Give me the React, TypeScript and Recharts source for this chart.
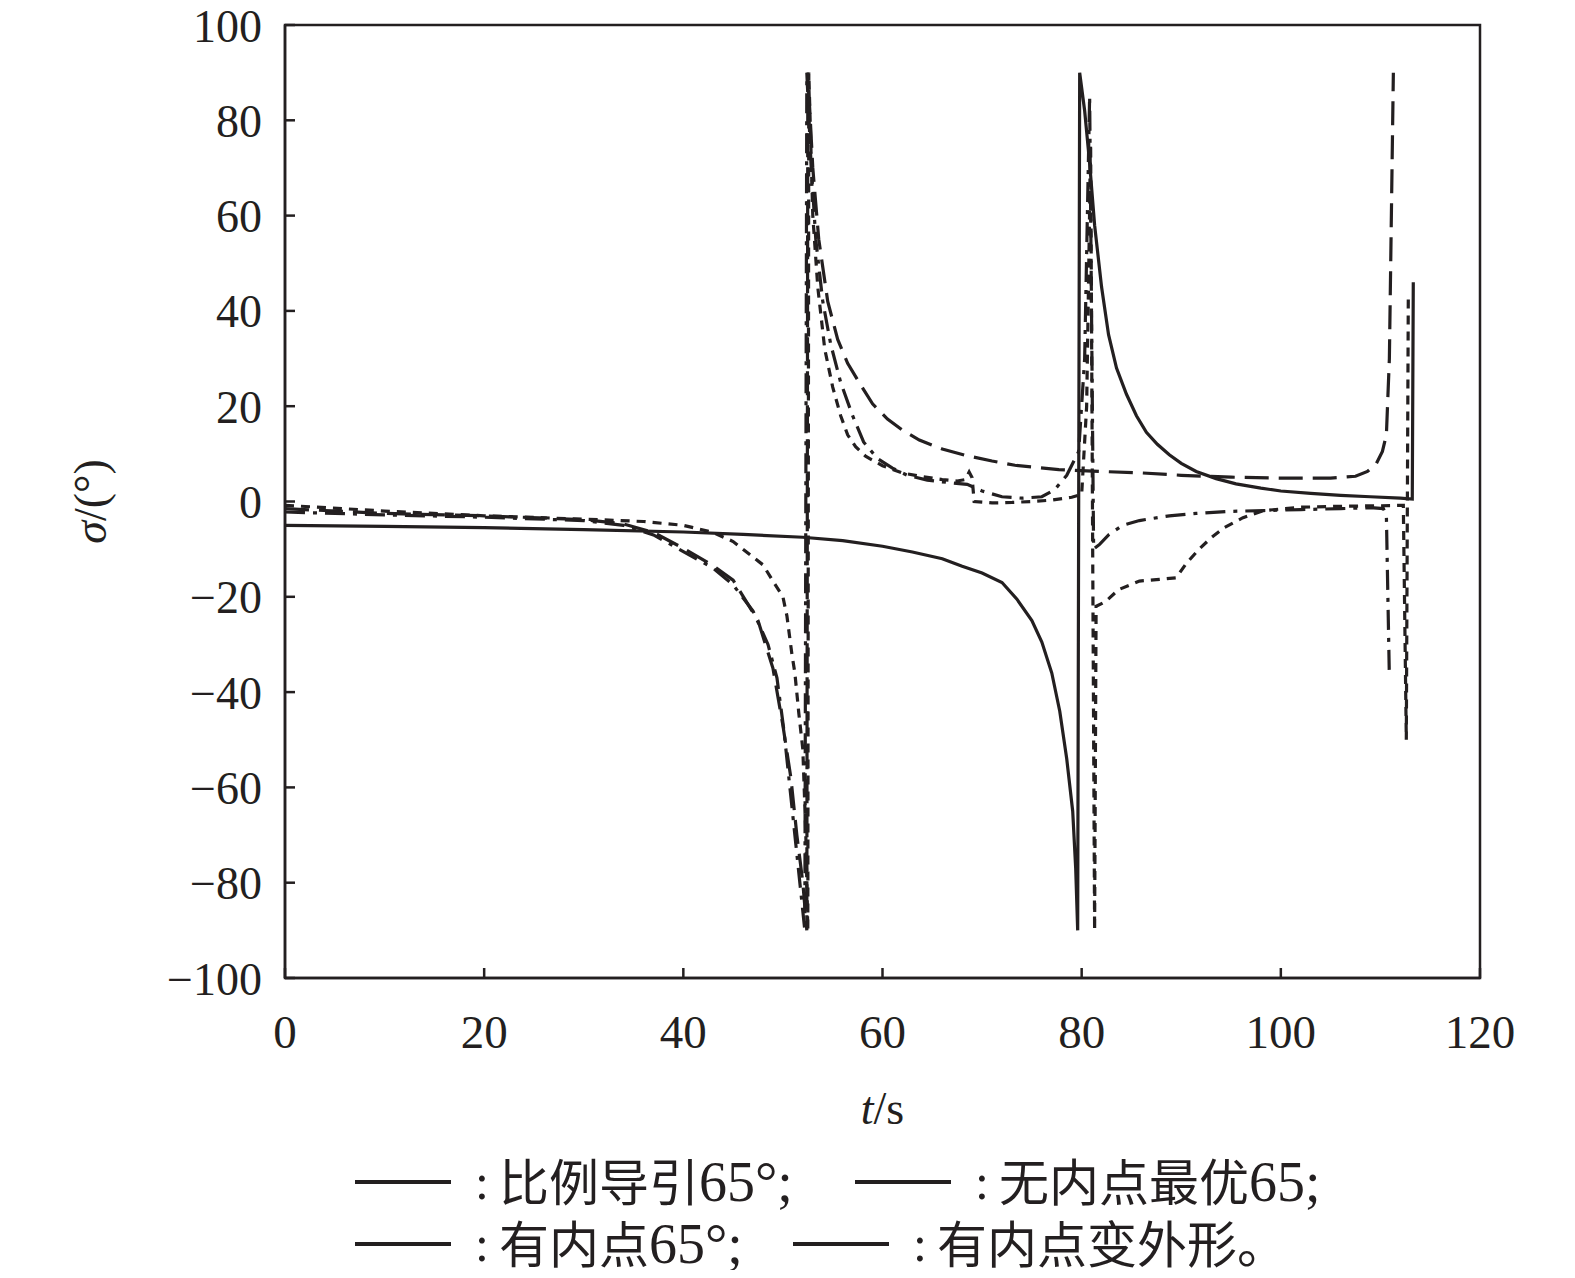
import { LineChart, Line, XAxis, YAxis, ReferenceArea } from "recharts"

// 坐标轴刻度
const X_TICKS = [0, 20, 40, 60, 80, 100, 120]
const Y_TICKS = [-100, -80, -60, -40, -20, 0, 20, 40, 60, 80, 100]

const SERIES_NAMES = ["比例导引65°", "无内点最优65", "有内点65°", "有内点变外形"]

// [t, σ] — 比例导引65°
const PN_65: [number, number][] = [
  [0, -5], [10, -5.2], [20, -5.5], [30, -5.9], [40, -6.4], [46, -6.9], [52, -7.5],
  [56, -8.2], [60, -9.4], [63, -10.6], [66, -12], [68, -13.6], [70, -15], [72, -17],
  [73.5, -20.5], [75, -25], [76, -29.5], [77, -36], [77.8, -44], [78.5, -54],
  [79.1, -65], [79.4, -77], [79.6, -90], [79.8, 90], [80.3, 82], [80.8, 71],
  [81.3, 58], [82, 45], [82.7, 35], [83.5, 28], [84.5, 22.5], [85.5, 18], [86.5, 14.5],
  [87.6, 12], [88.8, 9.8], [90, 8], [91.5, 6.3], [93.5, 4.8], [95.5, 3.7], [98, 2.8],
  [100, 2.2], [103, 1.7], [106, 1.3], [109, 1], [112, 0.7], [113.2, 0.5], [113.3, 46],
]

// 无内点最优65
const OPT_NO_POINT: [number, number][] = [
  [0, -1.5], [10, -2.5], [20, -3], [30, -3.8], [34, -4.7], [37, -6.5], [40, -9.8],
  [43, -13.5], [45, -16.5], [47.5, -25], [49, -35], [50, -47], [50.8, -58], [51.4, -70],
  [52, -80], [52.4, -90], [52.5, 90], [53, 70], [53.6, 55], [54.5, 42], [55.5, 34],
  [56.5, 29], [57.8, 24.5], [59, 20.5], [60.5, 17.3], [62, 15], [63.7, 12.9], [66, 11],
  [68.3, 9.7], [71, 8.5], [73.3, 7.6], [77.7, 6.7], [82, 6.3], [86, 6], [90, 5.5],
  [95, 5.1], [100, 4.9], [105, 4.9], [107.5, 5.3], [108.7, 6.3], [109.6, 8], [110.2, 10.5],
  [110.6, 14], [110.9, 30], [111.1, 60], [111.3, 90],
]

// 有内点65°
const OPT_POINT_65: [number, number][] = [
  [0, -2.2], [10, -2.8], [20, -3.3], [30, -4], [34, -5], [37, -7], [40, -10.5], [43, -14],
  [45, -17.5], [47, -23], [48.5, -30], [49.4, -37], [50.1, -48], [50.7, -60], [51.3, -72],
  [51.8, -82], [52.2, -90], [52.4, 90], [52.8, 72], [53.3, 55], [54, 42], [54.8, 33],
  [55.8, 25], [57, 18], [58.1, 12.5], [59.5, 9], [61, 7], [62.5, 5.5], [64.5, 4.5],
  [66.5, 4], [68.5, 3.6], [70, 2.2], [72, 1], [74, 0.7], [76, 1], [77.3, 2.5], [78.5, 5.5],
  [79.7, 10.5], [80.3, 30], [80.8, 85], [81.2, -10], [81.8, -9], [82.7, -7], [84.1, -5],
  [85.8, -4], [88.8, -3], [91.5, -2.5], [94.5, -2.1], [98.3, -1.9], [102, -1.7],
  [106, -1.5], [109, -1.3], [110.3, -1.5], [110.6, -3], [110.9, -37],
]

// 有内点变外形
const OPT_POINT_SHAPE: [number, number][] = [
  [0, -0.8], [10, -2], [20, -3], [30, -3.7], [36, -4.2], [40, -5], [43, -6.5], [45, -8.4],
  [48, -13.3], [49, -16.7], [50, -20], [50.4, -24], [50.9, -32], [51.2, -36], [51.6, -44.5],
  [52, -52], [52.3, -70], [52.5, -90], [52.6, 90], [53, 60], [53.5, 45], [54.2, 32],
  [55, 24], [55.8, 18], [56.5, 14], [57.3, 11.5], [58.3, 9.5], [60, 7.5], [62, 6],
  [64, 5.2], [66, 4.6], [67.5, 4.3], [68.3, 4.6], [68.7, 6.2], [69, 5], [69.2, 0],
  [71, -0.3], [73, -0.2], [75, 0], [77, 0.3], [79, 0.9], [80, 1.5], [80.5, 20], [80.9, 75],
  [81.3, -90], [81.45, -22], [82.4, -21], [83.7, -18.5], [85.8, -16.7], [87.5, -16.4],
  [89.5, -16], [90.5, -13], [91.8, -10], [93, -7.6], [94.3, -5.5], [96.2, -3.4],
  [98.3, -1.9], [102, -1.2], [106, -1], [110, -0.9], [112.3, -0.8], [112.6, -50], [112.8, 43],
]

const INK = "#231f20"
const SERIF = "'Liberation Serif', 'Times New Roman', serif"
const CJK = "'Noto Sans CJK SC', sans-serif"

const SERIES = [
  { name: SERIES_NAMES[0], points: PN_65, dash: undefined },
  { name: SERIES_NAMES[1], points: OPT_NO_POINT, dash: "24 10" },
  { name: SERIES_NAMES[2], points: OPT_POINT_65, dash: "20 8 4 8" },
  { name: SERIES_NAMES[3], points: OPT_POINT_SHAPE, dash: "9 7" },
].map(s => ({ ...s, data: s.points.map(([t, sigma]) => ({ t, sigma })) }))

const minus = (v: number) => String(v).replace("-", "\u2212")

function YTick({ x, y, payload }: any) {
  return (
    <text x={x} y={y} dy="0.36em" textAnchor="end" fontSize={46} fontFamily={SERIF} fill={INK}>
      {minus(payload.value)}
    </text>
  )
}

function XTick({ x, y, payload }: any) {
  return (
    <text x={x} y={y} dy="0.7em" textAnchor="middle" fontSize={47} fontFamily={SERIF} fill={INK}>
      {payload.value}
    </text>
  )
}

function XTitle({ viewBox }: any) {
  const { x, y, width } = viewBox
  return (
    <text x={x + width / 2} y={y + 146} textAnchor="middle" fontSize={46} fontFamily={SERIF} fill={INK}>
      <tspan fontStyle="italic">t</tspan>/s
    </text>
  )
}

function YTitle({ viewBox }: any) {
  const { y, height } = viewBox
  const cx = 82
  const cy = y + height / 2
  return (
    <text x={cx} y={cy} textAnchor="middle" dominantBaseline="central" fontSize={46}
      fontFamily={SERIF} fill={INK} transform={`rotate(-90, ${cx}, ${cy})`}>
      <tspan fontStyle="italic">σ</tspan>/(°)
    </text>
  )
}

// 图例位置（四项，两行），相对于外层容器（页面 y 偏移 0）
const LEGEND_POS = [
  { left: 347, top: 1155 },
  { left: 847, top: 1155 },
  { left: 347, top: 1217 },
  { left: 785, top: 1217 },
]
const LEGEND_END = [";", ";", ";", "。"]

function LegendLabel({ name, end }: { name: string; end: string }) {
  const m = name.match(/^([^\d]+)(.*)$/)
  const han = m ? m[1] : name
  const rest = m ? m[2] : ""
  return (
    <span style={{ lineHeight: 1 }}>
      <span style={{ fontFamily: CJK, fontSize: 50 }}>{han}</span>
      <span style={{ fontFamily: SERIF, fontSize: 56 }}>{rest}</span>
      <span style={{ fontFamily: end === "。" ? CJK : SERIF, fontSize: end === "。" ? 50 : 56 }}>{end}</span>
    </span>
  )
}

export default function App() {
  return (
    <div style={{ position: "relative", width: 1559, height: 1270, marginTop: -8 }}>
      <LineChart width={1559} height={1138} margin={{ top: 25, right: 87, bottom: 0, left: 0 }}>
        <XAxis
          type="number" dataKey="t" domain={[0, 120]} ticks={X_TICKS} allowDataOverflow
          height={160} tickSize={-10} tickMargin={47} tick={<XTick />}
          axisLine={{ stroke: INK, strokeWidth: 2.5 }}
          tickLine={{ stroke: INK, strokeWidth: 2.5 }}
          label={<XTitle />}
        />
        <YAxis
          type="number" domain={[-100, 100]} ticks={Y_TICKS} allowDataOverflow
          width={277} tickSize={-10} tickMargin={33} tick={<YTick />}
          axisLine={{ stroke: INK, strokeWidth: 2.5 }}
          tickLine={{ stroke: INK, strokeWidth: 2.5 }}
          label={<YTitle />}
        />
        <ReferenceArea x1={0} x2={120} y1={-100} y2={100} fill="none" fillOpacity={0}
          stroke={INK} strokeWidth={2.5} />
        {SERIES.map(s => (
          <Line
            key={s.name}
            data={s.data}
            dataKey="sigma"
            name={s.name}
            type="linear"
            stroke={INK}
            strokeWidth={3.2}
            strokeDasharray={s.dash}
            dot={false}
            isAnimationActive={false}
          />
        ))}
      </LineChart>

      {SERIES_NAMES.map((name, i) => (
        <div key={name} style={{
          position: "absolute", left: LEGEND_POS[i].left, top: LEGEND_POS[i].top,
          display: "flex", alignItems: "center", height: 54, lineHeight: 1, whiteSpace: "nowrap",
          fontFamily: SERIF, fontSize: 50, color: INK,
        }}>
          <svg width={96} height={10}><line x1={0} y1={5} x2={96} y2={5} stroke={INK} strokeWidth={4} /></svg>
          <span style={{ marginLeft: 24, marginRight: 10 }}>:</span>
          <LegendLabel name={name} end={LEGEND_END[i]} />
        </div>
      ))}
    </div>
  )
}
